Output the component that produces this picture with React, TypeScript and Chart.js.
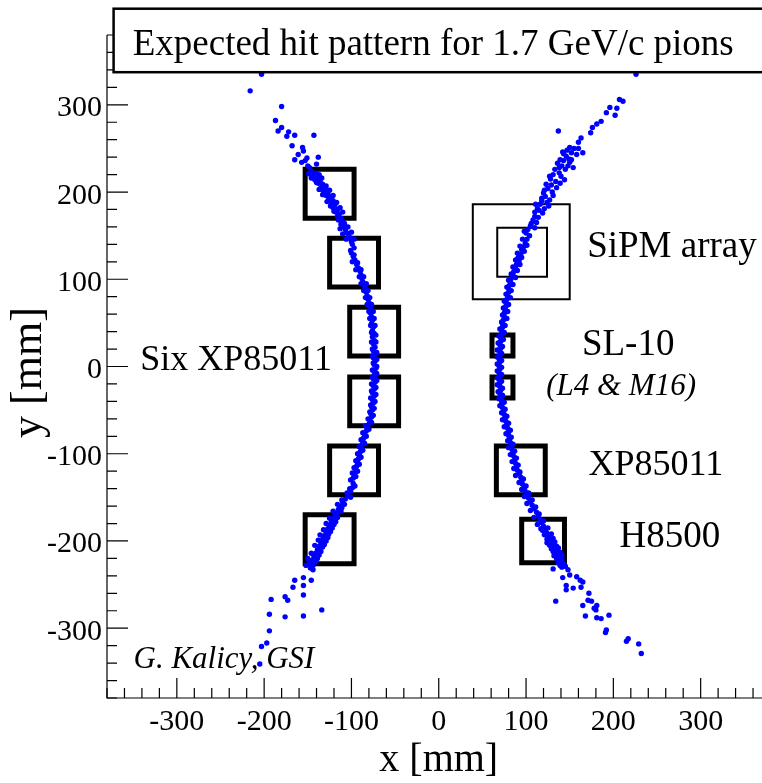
import React, { useEffect, useRef } from "react";
import { Chart, registerables } from "chart.js";

Chart.register(...registerables);

// ---- axis ranges & tick labels ----
const X_MIN = -380;
const X_MAX = 380;
const Y_MIN = -380;
const Y_MAX = 380;
const xTickLabels = [-300, -200, -100, 0, 100, 200, 300];
const yTickLabels = [-300, -200, -100, 0, 100, 200, 300];
const MINOR_STEP = 20;

// ---- hits: [x, y] in mm ----
const leftTrackHits: [number, number][] = [
  [-203, 335], [-216, 316], [-180, 298], [-187, 282], [-184, 270], [-180, 274], [-172, 269], [-174, 264],
  [-165, 265], [-143, 265], [-168, 253], [-156, 251], [-161, 243], [-155, 247], [-151, 239], [-165, 237],
  [-157, 234], [-138, 240], [-140, 232], [-148, 228], [-153, 236], [-150, 230],
  [-146, 224], [-141, 222], [-144, 219], [-139, 217], [-142, 214], [-136, 213], [-138, 210], [-133, 209],
  [-135, 205], [-130, 204], [-132, 201], [-127, 199], [-129, 196], [-124, 195], [-126, 192], [-121, 190],
  [-123, 187], [-119, 185], [-121, 182], [-116, 180], [-118, 177], [-114, 175], [-116, 172], [-112, 170],
  [-110, 166], [-112, 163], [-109, 160], [-107, 157], [-105, 153], [-103, 150], [-101, 147], [-100, 143],
  [-99, 140], [-100, 130], [-98, 126], [-96, 122], [-94, 117], [-92, 113], [-90, 109], [-89, 105],
  [-88, 101], [-87, 97], [-85, 93], [-84, 89], [-83, 85], [-82, 81], [-81, 77], [-80, 73], [-79, 69],
  [-78, 65], [-78, 61], [-77, 57], [-76, 53], [-77, 49], [-75, 45], [-76, 41], [-74, 38], [-76, 34],
  [-74, 30], [-75, 26], [-73, 22], [-75, 18], [-73, 14], [-75, 10], [-73, 6], [-74, 2], [-72, -2],
  [-74, -6], [-73, -10], [-75, -14], [-73, -18], [-75, -22], [-74, -26], [-76, -30], [-74, -34],
  [-76, -38], [-75, -42], [-77, -46], [-76, -50], [-78, -54], [-77, -58], [-79, -62], [-80, -66],
  [-82, -70], [-83, -74], [-85, -78], [-86, -82], [-87, -86], [-88, -90], [-89, -94], [-90, -98],
  [-91, -102], [-92, -106], [-93, -110], [-94, -114], [-95, -118], [-97, -124], [-98, -128], [-98, -134],
  [-99, -139], [-101, -143], [-104, -148], [-107, -152], [-110, -156], [-113, -160],
  [-115, -164], [-117, -168], [-119, -171], [-121, -175], [-123, -178], [-120, -181], [-125, -182],
  [-127, -186], [-124, -189], [-129, -190], [-131, -194], [-127, -196], [-133, -198], [-135, -202],
  [-131, -204], [-137, -206], [-139, -210], [-135, -212], [-141, -214], [-143, -218], [-139, -220],
  [-145, -222], [-148, -225], [-144, -228],
  [-144, -233], [-155, -242], [-165, -245], [-167, -253], [-155, -251], [-146, -245], [-155, -262],
  [-173, -268], [-176, -264], [-192, -267], [-176, -287], [-155, -286], [-134, -279], [-194, -284],
  [-194, -303], [-197, -317], [-203, -321], [-205, -341],
  // second layer of the dense band
  [-149, 221], [-137, 220], [-146, 216], [-134, 216], [-140, 211], [-129, 207], [-137, 203], [-125, 202],
  [-133, 197], [-121, 196], [-128, 189], [-117, 188], [-124, 184], [-113, 182], [-120, 178], [-110, 177],
  [-115, 168], [-108, 164], [-113, 158], [-104, 160], [-110, 152], [-100, 154], [-106, 146], [-97, 146],
  [-97, 136], [-101, 133], [-97, 128], [-99, 120], [-93, 119], [-95, 111], [-89, 111], [-91, 103],
  [-86, 103], [-89, 95], [-83, 95], [-86, 87], [-81, 87], [-84, 79], [-79, 79], [-82, 71], [-77, 71],
  [-80, 63], [-75, 63], [-79, 55], [-74, 55], [-78, 47], [-73, 47], [-77, 39], [-72, 36], [-77, 28],
  [-72, 28], [-76, 20], [-71, 16], [-76, 12], [-71, 8], [-75, 4], [-71, 0], [-76, -4], [-71, -8],
  [-76, -12], [-71, -16], [-77, -20], [-72, -24], [-77, -28], [-72, -32], [-78, -36], [-73, -40],
  [-78, -44], [-74, -48], [-79, -52], [-75, -56], [-81, -60], [-77, -64], [-84, -68], [-80, -72],
  [-87, -76], [-83, -80], [-89, -84], [-85, -88], [-91, -92], [-87, -96], [-93, -100], [-89, -104],
  [-95, -108], [-91, -112], [-97, -116], [-93, -120], [-99, -122], [-95, -126], [-101, -130], [-96, -137],
  [-102, -140], [-105, -145], [-101, -150], [-111, -153], [-108, -158], [-116, -158], [-111, -162],
  [-112, -166], [-121, -166], [-116, -173], [-125, -174], [-118, -178], [-129, -180], [-122, -185],
  [-132, -187], [-126, -192], [-136, -193], [-129, -200], [-138, -199], [-133, -207], [-142, -205],
  [-137, -216], [-146, -214], [-141, -224], [-150, -220], [-152, -228], [-147, -231],
];

const rightTrackHits: [number, number][] = [
  [226, 335], [207, 306], [211, 304], [196, 297], [204, 296], [192, 291], [202, 288], [186, 281],
  [181, 278], [176, 274], [174, 268], [137, 270], [163, 262], [160, 257], [150, 251], [165, 245],
  [158, 243], [146, 241], [139, 237], [152, 237], [141, 230], [154, 228], [131, 220], [144, 214],
  [123, 209], [135, 205], [120, 199], [127, 191], [116, 186],
  [147, 248], [143, 244], [149, 238], [136, 233], [145, 226], [133, 226], [138, 222], [128, 215],
  [134, 212], [125, 204], [130, 200], [122, 195], [118, 190], [124, 188], [113, 181],
  [119, 176], [115, 179], [110, 172], [112, 165], [108, 168], [102, 157], [105, 161], [100, 153],
  [101, 146], [99, 141], [97, 137], [95, 134], [94, 129], [91, 125], [92, 121], [89, 117], [88, 113],
  [86, 109], [85, 105], [83, 101], [82, 97], [81, 93], [80, 89], [80, 85], [79, 81], [78, 77], [77, 73],
  [77, 69], [76, 65], [75, 61], [75, 57], [74, 53], [73, 49], [73, 45], [72, 41], [72, 37], [71, 33],
  [71, 29], [70, 25], [71, 21], [70, 17], [70, 13], [69, 9], [70, 5], [69, 1], [70, -3], [69, -7],
  [70, -11], [69, -15], [70, -19], [70, -23], [71, -27], [70, -31], [71, -35], [72, -39], [72, -43],
  [73, -47], [74, -51], [75, -55], [76, -59], [77, -63], [78, -67], [79, -71], [80, -75], [80, -79],
  [81, -83], [82, -87], [83, -91], [84, -95], [85, -99], [86, -103], [87, -107], [88, -111], [89, -115],
  [90, -119], [92, -123], [94, -127], [95, -131], [96, -135], [98, -139], [99, -143], [101, -147],
  [103, -151], [105, -155], [107, -159], [109, -163], [112, -167], [114, -171], [116, -175], [118, -179],
  [120, -183], [122, -187], [124, -191], [126, -195], [128, -199], [130, -203], [132, -207], [134, -211],
  [136, -215], [138, -219], [140, -223],
  [125, -185], [119, -188], [129, -192], [124, -198], [133, -201], [127, -205], [137, -208], [131, -212],
  [141, -216], [135, -220], [143, -226],
  [131, -232], [141, -230], [148, -233], [142, -242], [150, -239], [158, -241], [162, -245], [165, -247],
  [146, -251], [146, -256], [154, -254], [163, -253], [172, -260], [171, -268], [175, -269], [134, -269],
  [165, -274], [181, -274], [180, -279], [178, -277], [168, -286], [181, -288], [186, -289], [195, -285],
  [192, -302], [191, -305], [217, -312], [215, -315], [229, -318], [232, -329],
  // second layer of the dense band
  [155, 250], [152, 245], [142, 246], [160, 250], [150, 234], [143, 236], [138, 228], [148, 230],
  [127, 218], [140, 218], [129, 208], [139, 210], [121, 202], [131, 196], [118, 193], [126, 184],
  [111, 186], [121, 181], [110, 177], [114, 171], [106, 164], [110, 159], [98, 155], [104, 150],
  [96, 146], [101, 139], [93, 138], [98, 132], [90, 130], [95, 125], [88, 122], [93, 117], [85, 114],
  [90, 110], [83, 106], [88, 102], [80, 99], [85, 94], [78, 91], [83, 87], [77, 83], [82, 79], [75, 75],
  [80, 71], [74, 67], [79, 63], [73, 59], [78, 55], [72, 51], [76, 47], [70, 43], [75, 39], [69, 35],
  [74, 31], [68, 27], [73, 23], [67, 19], [72, 15], [67, 11], [72, 7], [67, 3], [72, -1], [67, -5],
  [72, -9], [67, -13], [72, -17], [67, -21], [73, -25], [68, -29], [73, -33], [69, -37], [75, -41],
  [70, -45], [76, -49], [72, -53], [78, -57], [73, -61], [80, -65], [75, -69], [82, -73], [77, -77],
  [83, -81], [79, -85], [85, -89], [80, -93], [87, -97], [82, -101], [89, -105], [84, -109], [91, -113],
  [86, -117], [93, -121], [88, -125], [97, -129], [92, -133], [100, -137], [95, -141], [103, -145],
  [98, -149], [107, -153], [101, -157], [111, -161], [105, -165], [115, -169], [109, -173], [120, -177],
  [113, -181], [117, -186], [121, -193], [131, -197], [124, -202], [135, -206], [129, -209], [139, -213],
  [132, -217], [141, -221], [137, -225], [145, -229], [139, -228],
];

// ---- detector outlines: [xMin, xMax, yMin, yMax] in mm ----
const thickOutlines: [number, number, number, number][] = [
  [-153, -97, 170, 226],
  [-125, -69, 91, 147],
  [-102, -46, 12, 68],
  [-102, -46, -68, -12],
  [-125, -69, -147, -91],
  [-153, -97, -226, -170],
  [61, 85, 12, 36],
  [61, 85, -36, -12],
  [66, 122, -147, -91],
  [95, 144, -225, -175],
];
const thinOutlines: [number, number, number, number][] = [
  [39, 150, 77, 186],
  [67, 124, 103, 159],
];

// ---- text labels (anchor = left / baseline, in mm) ----
const annotationTexts = ["Six XP85011", "SiPM array", "SL-10", "(L4 & M16)", "XP85011", "H8500", "G. Kalicy, GSI"];
const annotationX = [-342, 170, 164, 123, 171.6, 207, -349.6];
const annotationY = [-4, 125, 13.2, -32.1, -124.4, -206.9, -345.6];
const annotationItalic = [false, false, false, true, false, false, true];
const annotationSize = [36, 37, 37, 31, 36, 37, 31];

const TITLE = "Expected hit pattern for 1.7 GeV/c pions";
const X_TITLE = "x [mm]";
const Y_TITLE = "y [mm]";

const SERIF = '"Liberation Serif", "DejaVu Serif", serif';

function outlinePoints(b: [number, number, number, number]) {
  const [x0, x1, y0, y1] = b;
  return [
    { x: x0, y: y0 },
    { x: x1, y: y0 },
    { x: x1, y: y1 },
    { x: x0, y: y1 },
    { x: x0, y: y0 },
  ];
}

const decorPlugin = {
  id: "rootDecor",
  afterDatasetsDraw(chart: any) {
    const { ctx, chartArea } = chart;
    const xs = chart.scales.x;
    const ys = chart.scales.y;
    const L = chartArea.left;
    const B = chartArea.bottom;
    ctx.save();

    // axes
    ctx.strokeStyle = "#000";
    ctx.lineWidth = 1.2;
    ctx.beginPath();
    ctx.moveTo(L, chartArea.top);
    ctx.lineTo(L, B);
    ctx.lineTo(chartArea.right, B);
    ctx.stroke();

    ctx.beginPath();
    for (let v = Y_MIN; v <= Y_MAX; v += MINOR_STEP) {
      const major = v % 100 === 0;
      const py = ys.getPixelForValue(v);
      ctx.moveTo(L, py);
      ctx.lineTo(L + (major ? 21 : 10), py);
    }
    for (let v = X_MIN; v <= X_MAX; v += MINOR_STEP) {
      const major = v % 100 === 0;
      const px = xs.getPixelForValue(v);
      ctx.moveTo(px, B);
      ctx.lineTo(px, B - (major ? 20 : 10));
    }
    ctx.stroke();

    // tick labels
    ctx.fillStyle = "#000";
    ctx.font = `30px ${SERIF}`;
    ctx.textBaseline = "alphabetic";
    ctx.textAlign = "right";
    for (const v of yTickLabels) {
      ctx.fillText(String(v), L - 5, ys.getPixelForValue(v) + 11.5);
    }
    ctx.textAlign = "center";
    for (const v of xTickLabels) {
      ctx.fillText(String(v), xs.getPixelForValue(v), B + 32);
    }

    // axis titles
    ctx.font = `40px ${SERIF}`;
    ctx.textAlign = "center";
    ctx.fillText(X_TITLE, xs.getPixelForValue(0), B + 73);
    ctx.save();
    ctx.translate(41, (chartArea.top + chartArea.bottom) / 2 + 6);
    ctx.rotate(-Math.PI / 2);
    ctx.font = `44px ${SERIF}`;
    ctx.fillText(Y_TITLE, 0, 0);
    ctx.restore();

    // annotations
    ctx.textAlign = "left";
    annotationTexts.forEach((t, i) => {
      ctx.font = `${annotationItalic[i] ? "italic " : ""}${annotationSize[i]}px ${SERIF}`;
      ctx.fillText(t, xs.getPixelForValue(annotationX[i]), ys.getPixelForValue(annotationY[i]));
    });

    // title pave
    ctx.fillStyle = "#fff";
    ctx.fillRect(113.6, 8.7, 700, 63.5);
    ctx.strokeStyle = "#000";
    ctx.lineWidth = 2.5;
    ctx.strokeRect(113.6, 8.7, 700, 63.5);
    ctx.fillStyle = "#000";
    ctx.font = `37px ${SERIF}`;
    ctx.textAlign = "left";
    ctx.fillText(TITLE, 132.7, 55);

    ctx.restore();
  },
};

export default function App() {
  const ref = useRef<HTMLCanvasElement>(null);

  useEffect(() => {
    const canvas = ref.current!;
    const hitStyle = {
      showLine: false,
      pointRadius: 2.7,
      pointBorderWidth: 0,
      pointBackgroundColor: "#0000ff",
      backgroundColor: "#0000ff",
      borderColor: "#0000ff",
      order: 0,
    };
    const boxDataset = (b: [number, number, number, number], w: number) => ({
      data: outlinePoints(b),
      showLine: true,
      pointRadius: 0,
      borderColor: "#000",
      backgroundColor: "#000",
      borderWidth: w,
      borderJoinStyle: "miter" as const,
      borderCapStyle: "square" as const,
      tension: 0,
      fill: false,
      order: 1,
    });

    const chart = new Chart(canvas, {
      type: "scatter",
      data: {
        datasets: [
          { ...hitStyle, data: leftTrackHits.map(([x, y]) => ({ x, y })) },
          { ...hitStyle, data: rightTrackHits.map(([x, y]) => ({ x, y })) },
          ...thickOutlines.map((b) => boxDataset(b, 5)),
          ...thinOutlines.map((b) => boxDataset(b, 2)),
        ] as any,
      },
      options: {
        animation: false,
        responsive: false,
        maintainAspectRatio: false,
        devicePixelRatio: 1,
        events: [],
        layout: { padding: { left: 107, top: 35, right: 9.5, bottom: 85 } },
        plugins: { legend: { display: false }, tooltip: { enabled: false } },
        scales: {
          x: { type: "linear", min: X_MIN, max: X_MAX, display: false },
          y: { type: "linear", min: Y_MIN, max: Y_MAX, display: false },
        },
      },
      plugins: [decorPlugin],
    });
    return () => chart.destroy();
  }, []);

  return (
    <div
      style={{
        position: "fixed",
        left: 0,
        top: 0,
        width: 762,
        height: 783,
        overflow: "hidden",
        background: "#fff",
      }}
    >
      <canvas ref={ref} width={780} height={783} style={{ display: "block", width: 780, height: 783 }} />
    </div>
  );
}
